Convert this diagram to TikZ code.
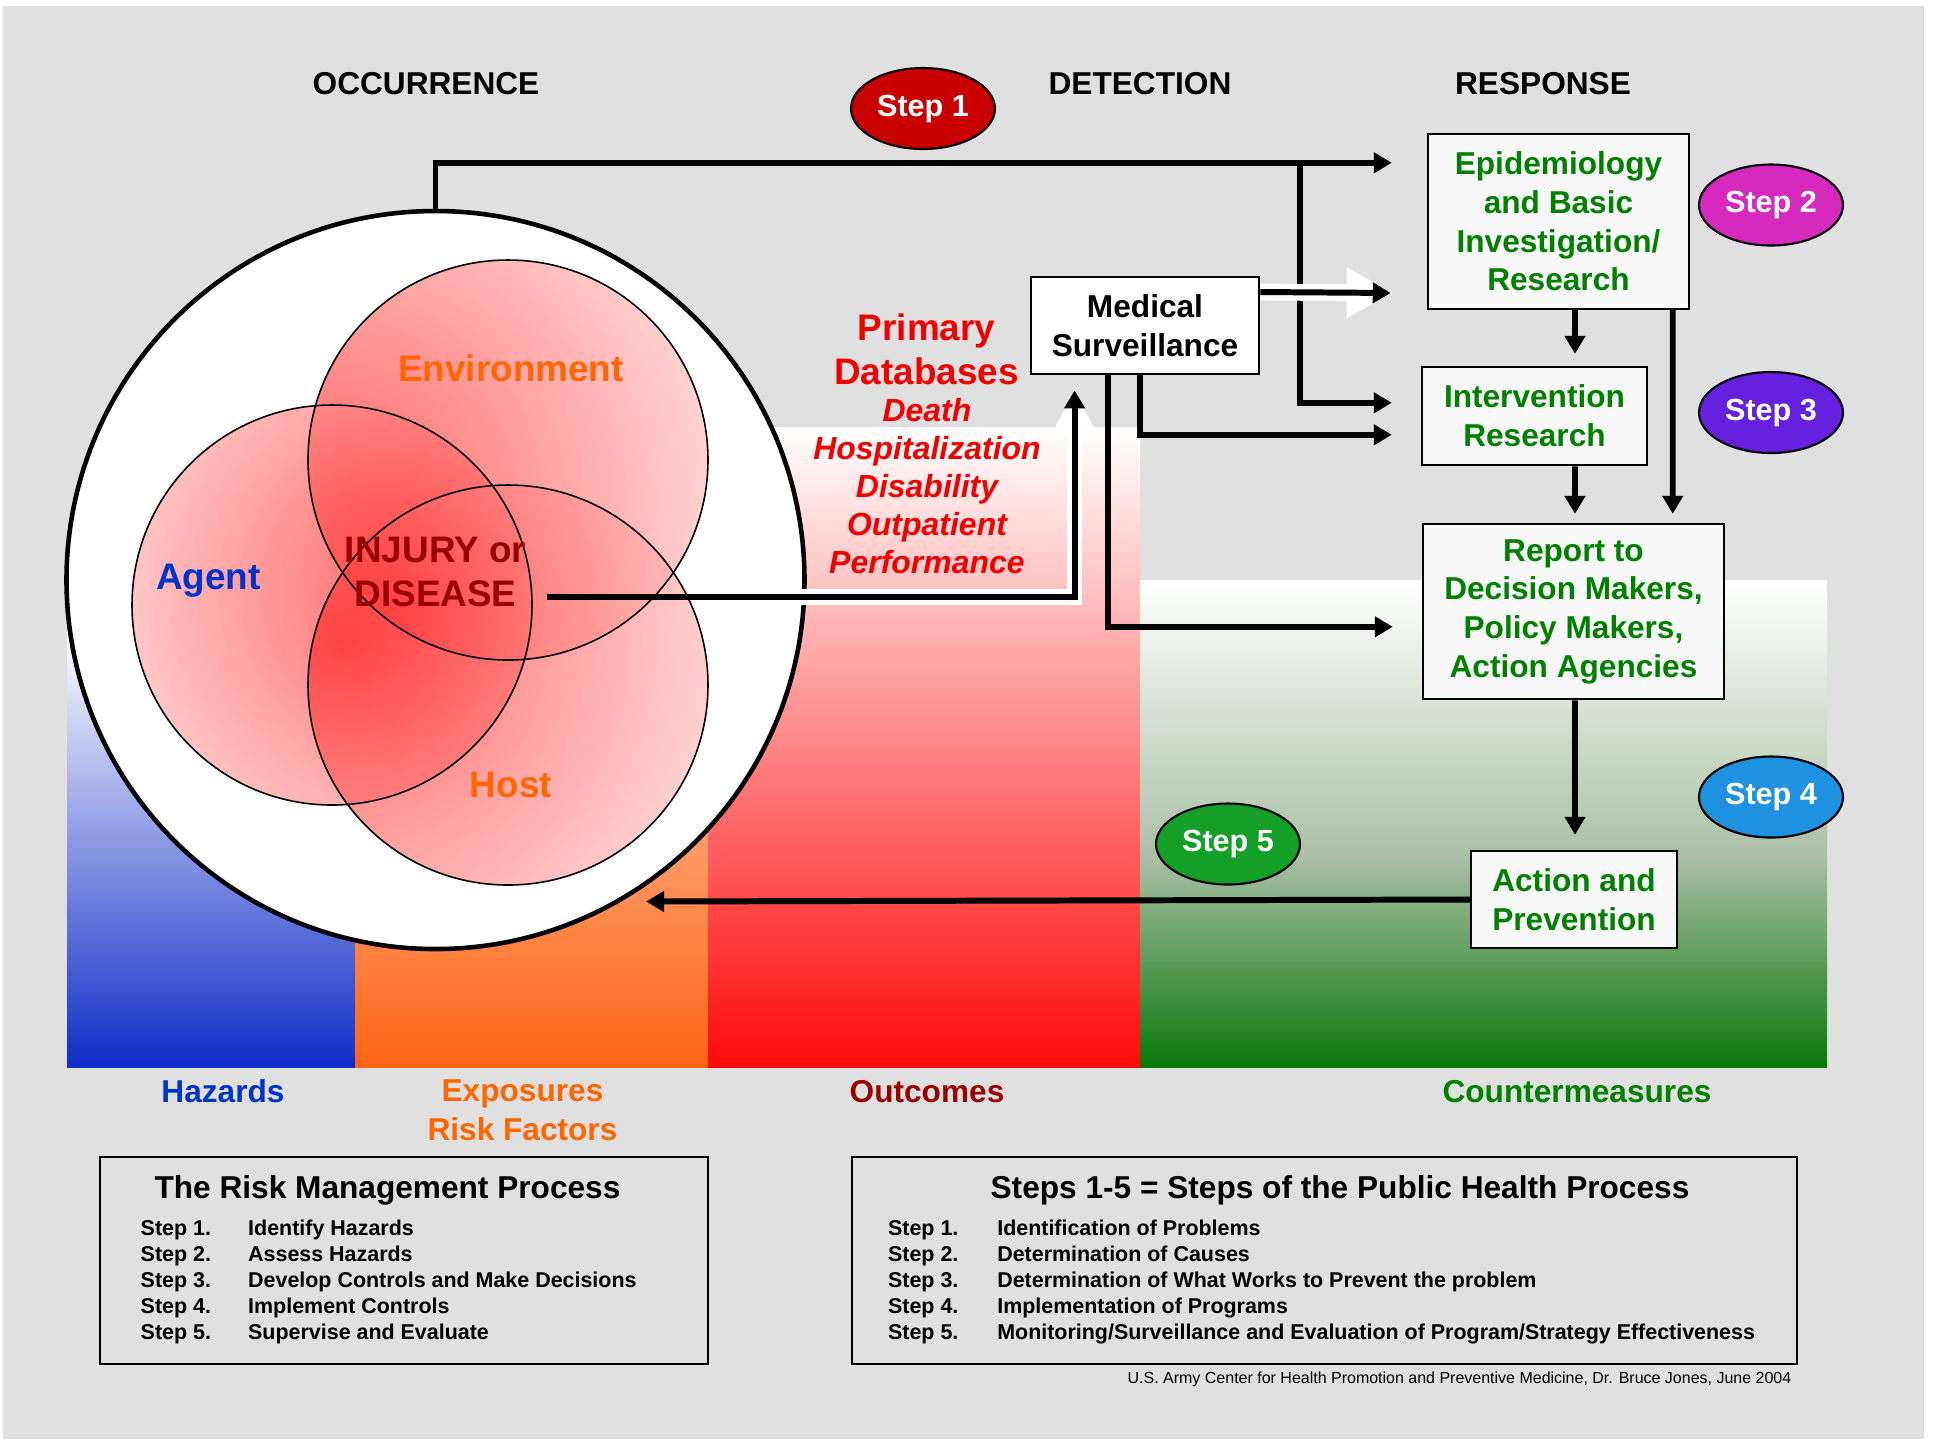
\documentclass[tikz,border=0pt]{standalone}
\usepackage{fontspec}
\setmainfont{Liberation Sans}
\usetikzlibrary{shapes.geometric,arrows.meta}

\definecolor{bggray}{RGB}{224,224,224}
\definecolor{boxfill}{RGB}{248,248,248}
\definecolor{txtgreen}{RGB}{0,128,0}
\definecolor{txtorange}{RGB}{255,102,0}
\definecolor{txtblue}{RGB}{0,51,204}
\definecolor{txtdred}{RGB}{153,0,0}
\definecolor{txtred}{RGB}{240,0,0}
\definecolor{vennred}{RGB}{255,40,40}
\definecolor{barblue}{RGB}{15,45,200}
\definecolor{barorange}{RGB}{255,100,20}
\definecolor{barred}{RGB}{255,10,10}
\definecolor{bargreen}{RGB}{10,120,10}
\definecolor{midgreen}{RGB}{170,192,165}
\definecolor{steponered}{RGB}{200,0,0}
\definecolor{steptwopink}{RGB}{214,42,190}
\definecolor{stepthreepurple}{RGB}{100,32,220}
\definecolor{stepfourblue}{RGB}{30,145,225}
\definecolor{stepfivegreen}{RGB}{20,160,40}

\pgfdeclareradialshading{vennglow}{\pgfpoint{0bp}{0bp}}{color(0bp)=(vennred); color(25bp)=(white); color(50bp)=(white)}

\tikzset{
  head/.style={inner sep=0pt, anchor=base, font=\fontsize{9}{11}\selectfont\bfseries},
  stepoval/.style={ellipse, draw=black, line width=0.6pt, minimum width=1.44cm, minimum height=0.81cm, inner sep=0pt, text=white, font=\fontsize{8.7}{10}\selectfont\bfseries},
  greenbox/.style={draw=black, line width=0.7pt, fill=boxfill, inner sep=0pt, align=center, text=txtgreen, font=\fontsize{9}{11}\selectfont\bfseries},
  vennlabel/.style={inner sep=0pt, anchor=base, font=\fontsize{10.5}{12.5}\selectfont\bfseries},
  barlabel/.style={inner sep=0pt, anchor=base, font=\fontsize{9}{11.1}\selectfont\bfseries},
  conn/.style={line width=1.7pt, -{Triangle[length=1.8mm,width=2mm]}},
  whitearrow/.style={white, line width=4.8pt, -{Triangle[length=4.6mm,width=4.7mm]}},
  vennline/.style={line width=0.45pt},
  listbox/.style={draw=black, line width=0.6pt, minimum height=2.07cm, inner sep=0pt},
  boxtitle/.style={inner sep=0pt, anchor=base, font=\fontsize{9}{11}\selectfont\bfseries},
  steplist/.style={inner sep=0pt, anchor=north west, font=\fontsize{6.1}{7.35}\selectfont\bfseries}
}

\begin{document}
\begin{tikzpicture}
\useasboundingbox (0,0) rectangle (19.33,-14.39);
\fill[bggray] (0.03,-0.06) rectangle (19.24,-14.39);
\shade[top color=white, bottom color=barblue] (0.67,-6.3) rectangle (3.55,-10.67);
\shade[top color=white, bottom color=barorange] (3.55,-4.27) rectangle (7.08,-10.67);
\shade[top color=white, bottom color=barred] (7.08,-4.27) rectangle (11.40,-10.67);
\shade[top color=white, bottom color=midgreen] (11.40,-5.80) rectangle (18.27,-8.57);
\shade[top color=midgreen, bottom color=bargreen] (11.40,-8.56) rectangle (18.27,-10.67);

\node[circle, draw=black, fill=white, line width=1.3pt, minimum size=7.38cm, inner sep=0pt] (world) at (4.355,-5.80) {};

\node[draw=black, line width=0.8pt, fill=white, inner sep=0pt, align=center, minimum width=2.28cm, minimum height=0.97cm, font=\fontsize{9}{11}\selectfont\bfseries] (med) at (11.45,-3.255) {Medical\\Surveillance};
\node[greenbox, minimum width=2.61cm, minimum height=1.75cm] (epi) at (15.585,-2.215) {Epidemiology\\and Basic\\Investigation/\\Research};
\node[greenbox, minimum width=2.25cm, minimum height=0.98cm] (intv) at (15.345,-4.16) {Intervention\\Research};
\node[greenbox, minimum width=3.01cm, minimum height=1.75cm] (rep) at (15.735,-6.115) {Report to\\Decision Makers,\\Policy Makers,\\Action Agencies};
\node[greenbox, minimum width=2.06cm, minimum height=0.97cm] (act) at (15.74,-8.995) {Action and\\Prevention};

\coordinate (dstart) at (5.47,-5.97);
\draw[white, line width=4.3pt, -{Triangle[length=3.8mm,width=3.7mm]}, shorten >=1.5mm] (dstart) -| ([xshift=4.5mm]med.south west);

\begin{scope}
  \clip (5.08,-4.60) circle (2.0);
  \shade[shading=vennglow, opacity=0.7] (3.35,-5.00) circle (5.4);
\end{scope}
\begin{scope}
  \clip (3.32,-6.05) circle (2.0);
  \shade[shading=vennglow, opacity=0.7] (4.10,-5.90) circle (4.5);
\end{scope}
\begin{scope}
  \clip (5.08,-6.85) circle (2.0);
  \shade[shading=vennglow, opacity=0.7] (3.40,-6.40) circle (5.4);
\end{scope}
\draw[vennline] (5.08,-4.60) circle (2.0) (3.32,-6.05) circle (2.0) (5.08,-6.85) circle (2.0);

\node[vennlabel, text=txtorange] (env) at (5.11,-3.81) {Environment};
\node[vennlabel, text=txtblue] (agent) at (2.085,-5.89) {Agent};
\node[vennlabel, text=txtorange] (host) at (5.11,-7.97) {Host};
\node[vennlabel, text=txtdred, align=center, anchor=north] (inj) at (4.355,-5.365) {INJURY or\\DISEASE};

\node[head] (occ) at (4.26,-0.94) {OCCURRENCE};
\node[head] (det) at (11.40,-0.94) {DETECTION};
\node[head] (resp) at (15.43,-0.94) {RESPONSE};

\node[stepoval, fill=steponered] (s1) at (9.23,-1.085) {Step 1};
\node[stepoval, fill=steptwopink] (s2) at (17.71,-2.05) {Step 2};
\node[stepoval, fill=stepthreepurple] (s3) at (17.71,-4.125) {Step 3};
\node[stepoval, fill=stepfourblue] (s4) at (17.71,-7.97) {Step 4};
\node[stepoval, fill=stepfivegreen] (s5) at (12.28,-8.44) {Step 5};

\node[anchor=north, inner sep=0pt, align=center, text=txtred, font=\fontsize{10.5}{12.5}\selectfont\bfseries] (pdb) at (9.265,-3.13) {Primary\\Databases};
\node[anchor=north, inner sep=0pt, align=center, text=txtred, font=\fontsize{9.1}{10.8}\selectfont\bfseries\itshape] (pdlist) at (9.27,-3.98) {Death\\Hospitalization\\Disability\\Outpatient\\Performance};

\coordinate (split) at (13.00,-1.64);
\draw[conn, shorten >=3.5mm] (world.north) |- ([yshift=-3mm]epi.north west);
\draw[conn, shorten >=2.9mm] (split) |- ([yshift=-3.7mm]intv.north west);
\draw[whitearrow, shorten >=3.4mm] ([yshift=3.35mm]med.east) -- ([yshift=1.7mm]epi.south west);
\draw[conn, shorten >=3.6mm] ([yshift=3.35mm]med.east) -- ([yshift=1.7mm]epi.south west);
\draw[conn, shorten >=2.9mm] ([xshift=-0.5mm]med.south) |- ([yshift=-6.9mm]intv.north west);
\draw[conn, shorten >=2.9mm] ([xshift=-3.7mm]med.south) |- ([yshift=-10.4mm]rep.north west);
\draw[conn, shorten >=1.5mm] (dstart) -| ([xshift=4.5mm]med.south west);
\draw[conn] ([xshift=1.65mm]epi.south) -- ([xshift=4.05mm,yshift=1.2mm]intv.north);
\draw[conn] ([xshift=4.05mm]intv.south) -- ([xshift=0.15mm,yshift=0.9mm]rep.north);
\draw[conn] ([xshift=-1.75mm]epi.south east) -- ([xshift=-5.25mm,yshift=0.9mm]rep.north east);
\draw[conn] ([xshift=0.15mm]rep.south) -- ([xshift=0.1mm,yshift=1.5mm]act.north);
\draw[conn, shorten >=2.5mm] (act.west) -- (world.-60);

\node[barlabel, text=txtblue] (haz) at (2.23,-11.02) {Hazards};
\node[barlabel, text=txtorange, align=center, anchor=north] (expo) at (5.225,-10.79) {Exposures\\Risk Factors};
\node[barlabel, text=txtdred] (outc) at (9.27,-11.02) {Outcomes};
\node[barlabel, text=txtgreen] (cm) at (15.77,-11.02) {Countermeasures};

\node[listbox, minimum width=6.08cm] (rmbox) at (4.04,-12.605) {};
\node[boxtitle] (rmtitle) at (3.875,-11.98) {The Risk Management Process};
\node[steplist] (rmlist) at (1.40,-12.17) {\begin{tabular}{@{}p{1.075cm}@{}l@{}}
Step 1. & Identify Hazards\\
Step 2. & Assess Hazards\\
Step 3. & Develop Controls and Make Decisions\\
Step 4. & Implement Controls\\
Step 5. & Supervise and Evaluate
\end{tabular}};

\node[listbox, minimum width=9.45cm] (phbox) at (13.245,-12.605) {};
\node[boxtitle] (phtitle) at (13.40,-11.98) {Steps 1-5 = Steps of the Public Health Process};
\node[steplist] (phlist) at (8.874,-12.17) {\begin{tabular}{@{}p{1.092cm}@{}l@{}}
Step 1. & Identification of Problems\\
Step 2. & Determination of Causes\\
Step 3. & Determination of What Works to Prevent the problem\\
Step 4. & Implementation of Programs\\
Step 5. & Monitoring/Surveillance and Evaluation of Program/Strategy Effectiveness
\end{tabular}};

\node[anchor=base east, inner sep=0pt, font=\fontsize{4.55}{5.5}\selectfont] (credit) at (17.92,-13.83) {U.S. Army Center for Health Promotion and Preventive Medicine, Dr. Bruce Jones, June 2004};
\end{tikzpicture}
\end{document}
